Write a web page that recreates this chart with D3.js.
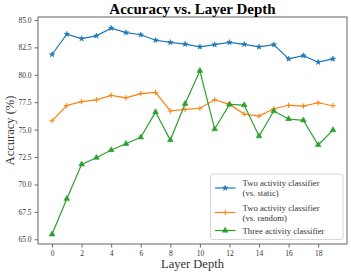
<!DOCTYPE html>
<html>
<head>
<meta charset="utf-8">
<script src="https://cdn.jsdelivr.net/npm/d3@7"></script>
<style>
  body { margin: 0; background: #fff; }
  text { font-family: "Liberation Serif", "DejaVu Serif", serif; }
</style>
</head>
<body>
<svg id="chart" width="351" height="273"></svg>
<script>
const layers = d3.range(0, 20);
const staticAcc = [81.85, 83.7, 83.3, 83.55, 84.25, 83.85, 83.65, 83.15, 82.95, 82.8,
  82.55, 82.75, 82.95, 82.78, 82.55, 82.75, 81.45, 81.75, 81.15, 81.45];
const randomAcc = [75.8, 77.2, 77.55, 77.72, 78.12, 77.9, 78.28, 78.4, 76.7, 76.85,
  76.95, 77.72, 77.3, 76.42, 76.24, 76.9, 77.22, 77.15, 77.45, 77.18];
const threeAcc = [65.45, 68.7, 71.83, 72.44, 73.14, 73.71, 74.3, 76.6, 74.05, 77.36,
  80.37, 75.05, 77.3, 77.24, 74.4, 76.7, 75.97, 75.85, 73.6, 74.96];
const yTicks = [65.0, 67.5, 70.0, 72.5, 75.0, 77.5, 80.0, 82.5, 85.0];
const xTicks = [0, 2, 4, 6, 8, 10, 12, 14, 16, 18];

const series = [
  { label: ["Two activity classifier", "(vs. static)"], values: staticAcc, color: "#1f77b4", marker: "star" },
  { label: ["Two activity classifier", "(vs. random)"], values: randomAcc, color: "#ff7f0e", marker: "plus" },
  { label: ["Three activity classifier"], values: threeAcc, color: "#2ca02c", marker: "tri" },
];

const margin = { top: 17, right: 4, bottom: 29, left: 38 };
const svg = d3.select("#chart");
const width = 351 - margin.left - margin.right;
const height = 273 - margin.top - margin.bottom;

const x = d3.scaleLinear().domain([-0.95, 19.95]).range([0, width]);
const y = d3.scaleLinear().domain([64.57, 85.27]).range([height, 0]);

const g = svg.append("g").attr("transform", `translate(${margin.left},${margin.top})`);

// axes
const xAxis = g.append("g")
  .attr("transform", `translate(0,${height})`)
  .call(d3.axisBottom(x).tickValues(xTicks).tickFormat(d3.format("d")).tickSize(3.5).tickPadding(3));
const yAxis = g.append("g")
  .call(d3.axisLeft(y).tickValues(yTicks).tickFormat(d3.format(".1f")).tickSize(3.5).tickPadding(3));
[xAxis, yAxis].forEach(a => {
  a.select(".domain").remove();
  a.selectAll("line").attr("stroke", "#444").attr("stroke-width", 0.8);
  a.selectAll("text").attr("font-family", "Liberation Serif, serif").attr("font-size", 7.5).attr("fill", "#333");
});

// frame
g.append("rect")
  .attr("width", width).attr("height", height)
  .attr("fill", "none").attr("stroke", "#555").attr("stroke-width", 0.9);

function markerPath(type) {
  if (type === "star") return d3.symbol(d3.symbolStar, 9)();
  if (type === "tri") return d3.symbol(d3.symbolTriangle, 14)();
  return "M-2.7,0H2.7M0,-2.7V2.7";
}

const line = d3.line().x((d, i) => x(layers[i])).y(d => y(d));

series.forEach(s => {
  g.append("path")
    .datum(s.values)
    .attr("fill", "none")
    .attr("stroke", s.color)
    .attr("stroke-width", 1.2)
    .attr("d", line);
  g.selectAll(null)
    .data(s.values)
    .enter()
    .append("path")
    .attr("transform", (d, i) => `translate(${x(layers[i])},${y(d)})`)
    .attr("d", markerPath(s.marker))
    .attr("fill", s.marker === "plus" ? "none" : s.color)
    .attr("stroke", s.color)
    .attr("stroke-width", s.marker === "plus" ? 1 : 0.6);
});

// legend
const lg = g.append("g").attr("transform", `translate(${width - 136.5},${height - 70})`);
lg.append("rect")
  .attr("width", 132.5).attr("height", 65.5).attr("rx", 2)
  .attr("fill", "#fff").attr("fill-opacity", 0.8)
  .attr("stroke", "#ccc").attr("stroke-width", 0.8);
const rowY = [14, 38.5, 56.5];
series.forEach((s, i) => {
  const row = lg.append("g").attr("transform", `translate(0,${rowY[i]})`);
  row.append("line").attr("x1", 4.5).attr("x2", 25).attr("stroke", s.color).attr("stroke-width", 1.2);
  row.append("path").attr("transform", "translate(14.7,0)")
    .attr("d", markerPath(s.marker))
    .attr("fill", s.marker === "plus" ? "none" : s.color)
    .attr("stroke", s.color)
    .attr("stroke-width", s.marker === "plus" ? 1 : 0.6);
  const off = s.label.length === 2 ? -5 : 0;
  s.label.forEach((t, j) => {
    row.append("text")
      .attr("x", 32).attr("y", off + j * 10).attr("dy", "0.35em")
      .attr("font-size", 8.7).attr("fill", "#333")
      .text(t);
  });
});

// title and labels
svg.append("text")
  .attr("x", margin.left + width / 2).attr("y", 13.5)
  .attr("text-anchor", "middle")
  .attr("font-size", 15).attr("font-weight", "bold")
  .text("Accuracy vs. Layer Depth");
svg.append("text")
  .attr("x", margin.left + width / 2).attr("y", 268)
  .attr("text-anchor", "middle")
  .attr("font-size", 12.5).attr("fill", "#333")
  .text("Layer Depth");
svg.append("text")
  .attr("transform", `translate(14,${margin.top + height / 2}) rotate(-90)`)
  .attr("text-anchor", "middle")
  .attr("font-size", 12.5).attr("fill", "#333")
  .text("Accuracy (%)");
</script>
</body>
</html>
